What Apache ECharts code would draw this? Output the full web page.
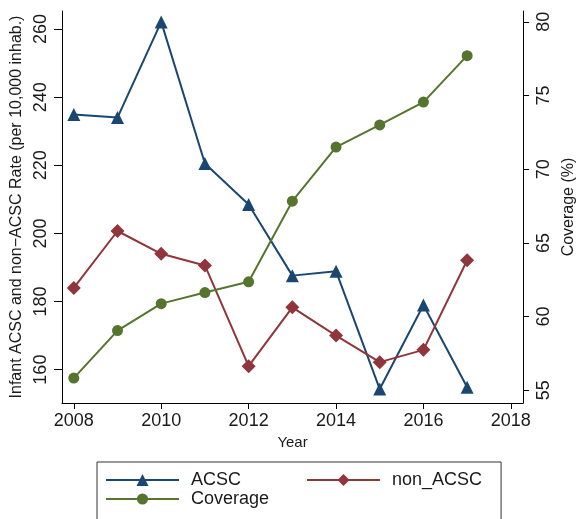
<!DOCTYPE html>
<html>
<head>
<meta charset="utf-8">
<script src="https://cdn.jsdelivr.net/npm/echarts@6/dist/echarts.min.js"></script>
<style>
html,body{margin:0;padding:0;background:#fff;}
#chart{width:585px;height:519px;}
</style>
</head>
<body>
<div id="chart"></div>
<script>
var years = [2008, 2009, 2010, 2011, 2012, 2013, 2014, 2015, 2016, 2017];
var acsc = [234.9, 234.0, 262.1, 220.5, 208.5, 187.6, 188.9, 154.3, 179.0, 154.8];
var nonAcsc = [184.0, 200.7, 194.0, 190.6, 161.0, 178.3, 170.0, 162.2, 165.8, 192.1];
var coverage = [55.83, 59.05, 60.88, 61.63, 62.36, 67.83, 71.5, 73.0, 74.55, 77.7];
var xTicks = [2008, 2010, 2012, 2014, 2016, 2018];
var leftTicks = [160, 180, 200, 220, 240, 260];
var rightTicks = [55, 60, 65, 70, 75, 80];

var FONT = 'Liberation Sans';
var TXT = '#1a1a1a';
var C_ACSC = '#1a476f', C_NON = '#90353b', C_COV = '#55752f';

function pairs(ys) { return years.map(function (y, i) { return [y, ys[i]]; }); }
function plain(v) { return String(v); }

var chart = echarts.init(document.getElementById('chart'), null, {renderer: 'canvas'});
chart.setOption({
  backgroundColor: '#fff',
  animation: false,
  textStyle: {fontFamily: FONT, color: TXT},
  grid: {left: 62, right: 52, top: 11, bottom: 116},
  xAxis: {
    type: 'value', min: 2007.73, max: 2018.28,
    name: 'Year', nameLocation: 'middle', nameGap: 31,
    nameTextStyle: {fontSize: 15, color: TXT, fontFamily: FONT},
    axisLine: {lineStyle: {color: '#000', width: 1}},
    axisTick: {show: true, length: 6, customValues: xTicks, lineStyle: {color: '#000'}},
    axisLabel: {customValues: xTicks, formatter: plain, fontSize: 18, color: TXT, margin: 9, fontFamily: FONT},
    splitLine: {show: false}
  },
  yAxis: [{
    type: 'value', min: 150.2, max: 265.3, position: 'left',
    name: 'Infant ACSC and non\u2212ACSC Rate (per 10,000 inhab.)',
    nameLocation: 'middle', nameGap: 36,
    nameTextStyle: {fontSize: 16, color: TXT, fontFamily: FONT},
    axisLine: {show: true, lineStyle: {color: '#000', width: 1}},
    axisTick: {show: true, length: 8, customValues: leftTicks, lineStyle: {color: '#000'}},
    axisLabel: {customValues: leftTicks, formatter: plain, rotate: 90, fontSize: 18, color: TXT, margin: 12, fontFamily: FONT},
    splitLine: {show: false}
  }, {
    type: 'value', min: 54.14, max: 80.73, position: 'right',
    name: 'Coverage (%)', nameLocation: 'middle', nameGap: 34, nameRotate: 90,
    nameTextStyle: {fontSize: 16, color: TXT, fontFamily: FONT},
    axisLine: {show: true, lineStyle: {color: '#000', width: 1}},
    axisTick: {show: true, length: 6, customValues: rightTicks, lineStyle: {color: '#000'}},
    axisLabel: {customValues: rightTicks, formatter: plain, rotate: 90, fontSize: 18, color: TXT, margin: 12, fontFamily: FONT},
    splitLine: {show: false}
  }],
  legend: [{
    data: ['ACSC', 'non_ACSC'],
    left: 97, top: 462, orient: 'horizontal',
    padding: [9, 19, 40, 8],
    borderColor: '#333', borderWidth: 1,
    itemWidth: 73, itemHeight: 15, itemGap: 65,
    textStyle: {fontSize: 18, color: TXT, fontFamily: FONT, padding: [0, 0, 0, 7]}
  }, {
    data: ['Coverage'],
    left: 105, top: 490, padding: 0,
    itemWidth: 73, itemHeight: 14,
    textStyle: {fontSize: 18, color: TXT, fontFamily: FONT, padding: [0, 0, 0, 7]}
  }],
  series: [{
    name: 'ACSC', type: 'line', yAxisIndex: 0, data: pairs(acsc),
    symbol: 'triangle', symbolSize: 13,
    lineStyle: {color: C_ACSC, width: 2}, itemStyle: {color: C_ACSC}
  }, {
    name: 'non_ACSC', type: 'line', yAxisIndex: 0, data: pairs(nonAcsc),
    symbol: 'diamond', symbolSize: 14,
    lineStyle: {color: C_NON, width: 2}, itemStyle: {color: C_NON}
  }, {
    name: 'Coverage', type: 'line', yAxisIndex: 1, data: pairs(coverage),
    symbol: 'circle', symbolSize: 11,
    lineStyle: {color: C_COV, width: 2}, itemStyle: {color: C_COV}
  }]
});
</script>
</body>
</html>
